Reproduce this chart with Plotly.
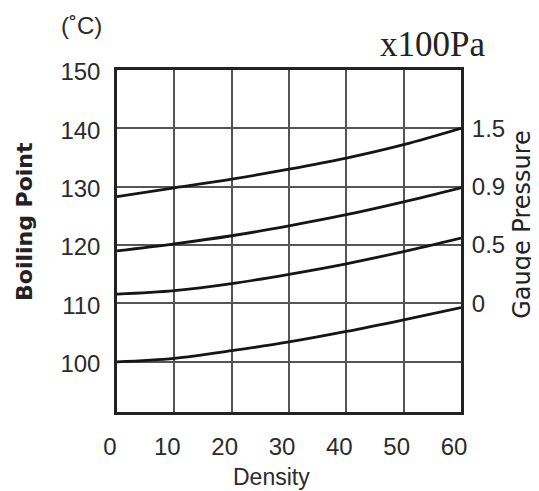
import plotly.graph_objects as go

density = [0, 10, 20, 30, 40, 50, 60]
# boiling point curves (deg C) for each gauge pressure
bp_0 = [100.0, 100.6, 101.9, 103.4, 105.2, 107.2, 109.3]
bp_05 = [111.6, 112.2, 113.4, 115.0, 116.8, 118.9, 121.2]
bp_09 = [119.0, 120.2, 121.6, 123.3, 125.2, 127.4, 129.8]
bp_15 = [128.3, 129.8, 131.3, 133.0, 134.9, 137.2, 140.0]

pressure_pos = [110, 120, 130, 140]
pressure_labels = ["0", "0.5", "0.9", "1.5"]

SANS = "Liberation Sans, Arial, sans-serif"
WIDE = "DejaVu Sans, sans-serif"
yr = [91.4, 150]
TXT = "#2b2b2b"

fig = go.Figure()
for s in [bp_0, bp_05, bp_09, bp_15]:
    fig.add_trace(go.Scatter(x=density, y=s, mode="lines",
                             line=dict(color="#151515", width=2.8, shape="spline"),
                             showlegend=False, hoverinfo="skip"))
# dummy trace so the right axis is drawn
fig.add_trace(go.Scatter(x=[0], y=[100], yaxis="y2", mode="markers",
                         marker=dict(opacity=0), showlegend=False, hoverinfo="skip"))

# page body has an 8px margin, so the figure is 8px smaller than the window
fig.update_layout(
    width=531, height=483,
    margin=dict(l=109, r=78, t=62, b=79),
    paper_bgcolor="white", plot_bgcolor="white",
    font=dict(family=SANS, color=TXT),
    xaxis=dict(range=[0, 60], tickvals=density, showgrid=True,
               gridcolor="#555555", gridwidth=1.5, zeroline=False,
               showline=True, linecolor="#222222", linewidth=2.5, mirror=True,
               ticks="outside", ticklen=11, tickcolor="rgba(0,0,0,0)",
               ticklabelshift=-7, tickfont=dict(size=24, color=TXT)),
    yaxis=dict(range=yr, tickvals=[100, 110, 120, 130, 140, 150],
               showgrid=True, gridcolor="#555555", gridwidth=1.5, zeroline=False,
               showline=True, linecolor="#222222", linewidth=2.5, mirror=True,
               ticks="outside", ticklen=9, tickcolor="rgba(0,0,0,0)",
               ticklabelshift=2, tickfont=dict(size=24, color=TXT)),
    yaxis2=dict(range=yr, overlaying="y", side="right",
                tickvals=pressure_pos, ticktext=pressure_labels,
                showgrid=False, zeroline=False, showline=False,
                ticks="outside", ticklen=5, tickcolor="rgba(0,0,0,0)",
                tickfont=dict(size=24, color=TXT)),
)

ann = [
    dict(text="(˚C)", x=-0.102, y=1.129, font=dict(size=24)),
    dict(text="x100Pa", x=0.916, y=1.076,
         font=dict(size=35, family="Liberation Serif, Times New Roman, serif", color="#222222")),
    dict(text="<b>Boiling Point</b>", x=-0.267, y=0.556, textangle=-90,
         font=dict(size=22, family=WIDE, color="#222222")),
    dict(text="Gauge Pressure", x=1.175, y=0.548, textangle=-90,
         font=dict(size=24, family=WIDE, color="#222222")),
    dict(text="Density", x=0.449, y=-0.19, font=dict(size=23)),
]
for a in ann:
    fig.add_annotation(xref="paper", yref="paper", showarrow=False,
                       xanchor="center", yanchor="middle", **a)

fig.write_html("out.html")
